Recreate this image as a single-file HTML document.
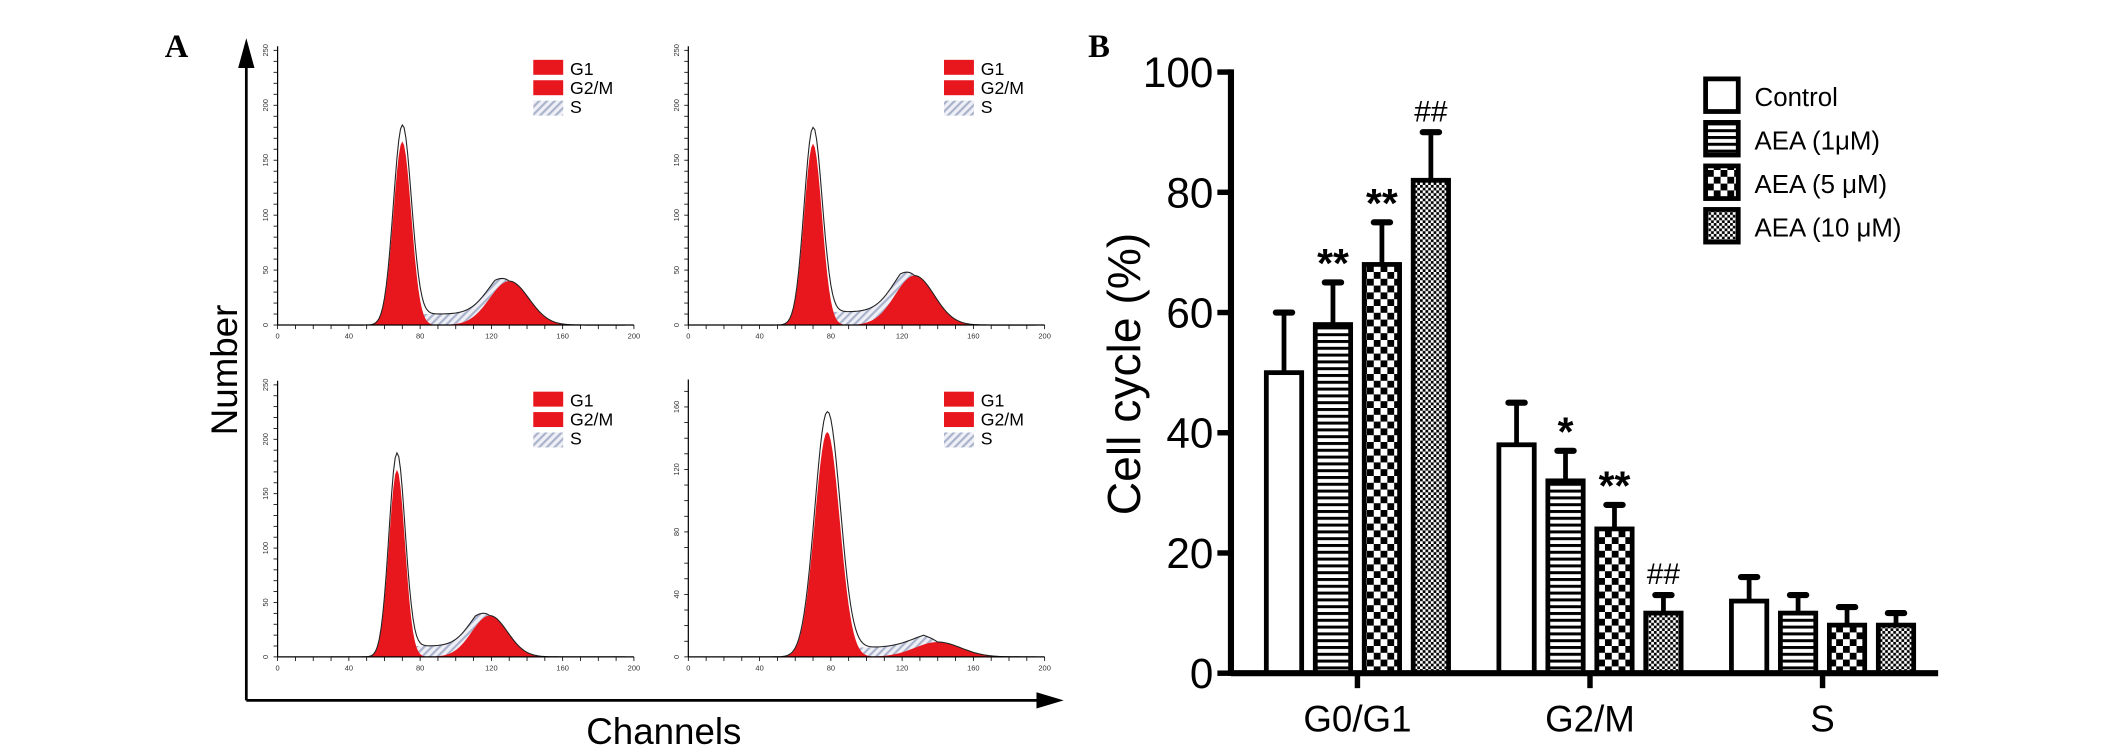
<!DOCTYPE html>
<html><head><meta charset="utf-8"><style>
html,body{margin:0;padding:0;background:#fff;}
svg{display:block;font-family:"Liberation Sans",Arial,sans-serif;}
</style></head><body>
<svg id="fig" width="2126" height="748" viewBox="0 0 1563 550" xmlns="http://www.w3.org/2000/svg">
<defs>
<pattern id="stripes" patternUnits="userSpaceOnUse" width="6" height="5"><rect width="6" height="5" fill="#fff"/><rect y="0" width="6" height="2.2" fill="#000"/></pattern>
<pattern id="checker" patternUnits="userSpaceOnUse" width="10" height="10"><rect width="10" height="10" fill="#fff"/><rect width="5" height="5" fill="#000"/><rect x="5" y="5" width="5" height="5" fill="#000"/></pattern>
<pattern id="fine" patternUnits="userSpaceOnUse" width="4" height="4"><rect width="4" height="4" fill="#fff"/><rect width="2" height="2" fill="#000"/><rect x="2" y="2" width="2" height="2" fill="#000"/></pattern>
<pattern id="hatch" patternUnits="userSpaceOnUse" width="4" height="4" patternTransform="rotate(45)"><rect width="4" height="4" fill="#eef0f6"/><rect width="1.6" height="4" fill="#aab2cc"/></pattern>
</defs>
<g id="panelA"></g>
<g id="panelB"></g>
</svg>
<script>
const NS='http://www.w3.org/2000/svg';
function mk(parent,tag,attrs,text){const e=document.createElementNS(NS,tag);for(const k in attrs)e.setAttribute(k,attrs[k]);if(text!==undefined)e.textContent=text;parent.appendChild(e);return e;}

// ---------- Panel B data ----------
const categories=['G0/G1','G2/M','S'];
const seriesNames=['Control','AEA (1μM)','AEA (5 μM)','AEA (10 μM)'];
const controlVals=[50,38,12];
const aea1Vals=[58,32,10];
const aea5Vals=[68,24,8];
const aea10Vals=[82,10,8];
const controlErr=[10,7,4];
const aea1Err=[7,5,3];
const aea5Err=[7,4,3];
const aea10Err=[8,3,2];
const annotations=[['','**','**','##'],['','*','**','##'],['','','','']];
const yTicks=[0,20,40,60,80,100];

// ---------- Panel A data (fitted peak parameters) ----------
const histPanels=['top-left','top-right','bottom-left','bottom-right'];
const g1Mean=[70,70,67,78];
const g1Sd=[5,5,4.5,7];
const g1Height=[167,165,172,144];
const g2Mean=[130,127,119,140];
const g2Sd=[11,11,10,13];
const g2Height=[40,45,38,9.5];
const sLevel=[10,12,10,6];
const yMax=[250,250,250,175];

// ---------- Panel B drawing ----------
const B=document.getElementById('panelB');
const bx0=905,bx1=1425,by0=495,byTop=53;
const yB=v=>by0-(by0-byTop)*v/100;
const groupCenter=[998,1169,1340];
const pitch=36,bw=26;
mk(B,'text',{x:800,y:42,'font-family':'Liberation Serif,serif','font-weight':'bold','font-size':24,},'B');
const yt=mk(B,'text',{x:0,y:0,transform:'translate(838,275) rotate(-90)','text-anchor':'middle','font-size':34,},'Cell cycle (%)');
yTicks.forEach(t=>{
  const g=mk(B,'g',{});
  
  
  mk(g,'line',{x1:bx0-10,x2:bx0,y1:yB(t),y2:yB(t),stroke:'#000','stroke-width':4});
  mk(g,'text',{x:bx0-13,y:yB(t)+11,'text-anchor':'end','font-size':31},String(t));
});
const fills=['#fff','url(#stripes)','url(#checker)','url(#fine)'];
const vals=[controlVals,aea1Vals,aea5Vals,aea10Vals];
const errs=[controlErr,aea1Err,aea5Err,aea10Err];
categories.forEach((c,ci)=>{
  for(let s=0;s<4;s++){
    const cx=groupCenter[ci]+(s-1.5)*pitch;
    const v=vals[s][ci],e=errs[s][ci];
    const g=mk(B,'g',{});
    
    
    mk(g,'line',{x1:cx,x2:cx,y1:yB(v),y2:yB(v+e),stroke:'#000','stroke-width':3.5});
    mk(g,'line',{x1:cx-6,x2:cx+6,y1:yB(v+e),y2:yB(v+e),stroke:'#000','stroke-width':4.5,'stroke-linecap':'round'});
    mk(g,'rect',{x:cx-bw/2,y:yB(v),width:bw,height:by0-yB(v),fill:fills[s],stroke:'#000','stroke-width':3.5});
    const a=annotations[ci][s];
    if(a){
      const isHash=a[0]==='#';
      mk(g,'text',{x:cx,y:yB(v+e)-(isHash?8:4),'text-anchor':'middle','font-size':isHash?22:30,'font-weight':isHash?'normal':'bold'},a);
    }
  }
  const tg=mk(B,'g',{});
  
  
  mk(tg,'line',{x1:groupCenter[ci],x2:groupCenter[ci],y1:by0,y2:by0+11,stroke:'#000','stroke-width':4});
  mk(tg,'text',{x:groupCenter[ci],y:538,'text-anchor':'middle','font-size':27},c);
});
const ya=mk(B,'line',{x1:bx0,x2:bx0,y1:byTop-2,y2:by0+2,stroke:'#000','stroke-width':4.5});

const xa=mk(B,'line',{x1:bx0,x2:bx1,y1:by0,y2:by0,stroke:'#000','stroke-width':4.5});

const leg=mk(B,'g',{});

seriesNames.forEach((n,i)=>{
  const y=58+i*32;
  const g=mk(leg,'g',{});
  
  
  mk(g,'rect',{x:1254,y:y,width:24,height:24,fill:fills[i],stroke:'#000','stroke-width':3.5});
  mk(g,'text',{x:1290,y:y+20,'font-size':19},n);
});

// ---------- Panel A drawing ----------
const A=document.getElementById('panelA');
mk(A,'text',{x:121,y:42,'font-family':'Liberation Serif,serif','font-weight':'bold','font-size':24,},'A');
const va=mk(A,'g',{});
mk(va,'line',{x1:181,x2:181,y1:515,y2:48,stroke:'#000','stroke-width':2});
mk(va,'polygon',{points:'175,50 187,50 181,28',fill:'#000'});
const ha=mk(A,'g',{});
mk(ha,'line',{x1:181,x2:765,y1:515,y2:515,stroke:'#000','stroke-width':2});
mk(ha,'polygon',{points:'762,509 762,521 782,515',fill:'#000'});
mk(A,'text',{x:0,y:0,transform:'translate(174,272) rotate(-90)','text-anchor':'middle','font-size':27,},'Number');
mk(A,'text',{x:488,y:547,'text-anchor':'middle','font-size':27,},'Channels');

const boxX=[204,506,204,506],boxBase=[239,239,483,483],boxH=[202,202,200,201];
const xW=262;
const gauss=(x,m,s,h)=>h*Math.exp(-((x-m)*(x-m))/(2*s*s));
histPanels.forEach((p,i)=>{
  const g=mk(A,'g',{});
  
  
  const X=ch=>boxX[i]+ch*xW/200;
  const Y=c=>boxBase[i]-c*boxH[i]/yMax[i];
  const sAt=ch=>{const lo=g1Mean[i],hi=g2Mean[i];if(ch<lo||ch>hi)return 0;const t=Math.min(ch-lo,hi-ch);return sLevel[i]*Math.min(1,t/8);};
  let g1p='',g2p='',sp='',op='';
  for(let ch=30;ch<=195;ch+=1){
    const a=gauss(ch,g1Mean[i],g1Sd[i],g1Height[i]);
    const b=gauss(ch,g2Mean[i],g2Sd[i],g2Height[i]);
    const s=sAt(ch);
    g1p+=`${X(ch)},${Y(a)} `;g2p+=`${X(ch)},${Y(b)} `;sp+=`${X(ch)},${Y(s+b)} `;
    op+=`${X(ch)},${Y(a+b+s+gauss(ch,g1Mean[i],g1Sd[i],g1Height[i]*0.09))} `;
  }
  const base=`${X(195)},${Y(0)} ${X(30)},${Y(0)}`;
  mk(g,'polygon',{points:sp+base,fill:'url(#hatch)'});
  mk(g,'polygon',{points:g1p+base,fill:'#e8171d'});
  mk(g,'polygon',{points:g2p+base,fill:'#e8171d'});
  mk(g,'polyline',{points:op,fill:'none',stroke:'#222','stroke-width':0.8});
  // axes
  mk(g,'line',{x1:X(0),x2:X(200),y1:Y(0),y2:Y(0),stroke:'#000','stroke-width':0.9});
  mk(g,'line',{x1:X(0),x2:X(0),y1:Y(0),y2:boxBase[i]-boxH[i]-3,stroke:'#000','stroke-width':0.9});
  for(let ch=0;ch<=200;ch+=10){
    mk(g,'line',{x1:X(ch),x2:X(ch),y1:Y(0),y2:Y(0)+3,stroke:'#000','stroke-width':0.6});
    if(ch%40===0)mk(g,'text',{x:X(ch),y:Y(0)+10,'text-anchor':'middle','font-size':5.5,fill:'#333'},String(ch));
  }
  const step=yMax[i]>200?10:10;
  for(let c=0;c<=yMax[i];c+=step){
    mk(g,'line',{x1:X(0)-3,x2:X(0),y1:Y(c),y2:Y(c),stroke:'#000','stroke-width':0.6});
  }
  const lblStep=yMax[i]>200?50:40;
  for(let c=0;c<=yMax[i];c+=lblStep){
    mk(g,'text',{x:0,y:0,transform:`translate(${X(0)-7},${Y(c)}) rotate(-90)`,'text-anchor':'middle','font-size':5.5,fill:'#333'},String(c));
  }
  // legend
  const lx=boxX[i]+188,ly=boxBase[i]-195;
  const lg=mk(g,'g',{});
  
  
  mk(lg,'rect',{x:lx,y:ly,width:22,height:11,fill:'#e8171d'});
  mk(lg,'rect',{x:lx,y:ly+15,width:22,height:11,fill:'#e8171d'});
  mk(lg,'rect',{x:lx,y:ly+30,width:22,height:11,fill:'url(#hatch)'});
  mk(lg,'text',{x:lx+27,y:ly+11,'font-size':13},'G1');
  mk(lg,'text',{x:lx+27,y:ly+25,'font-size':13},'G2/M');
  mk(lg,'text',{x:lx+27,y:ly+39,'font-size':13},'S');
});
</script>
</body></html>
